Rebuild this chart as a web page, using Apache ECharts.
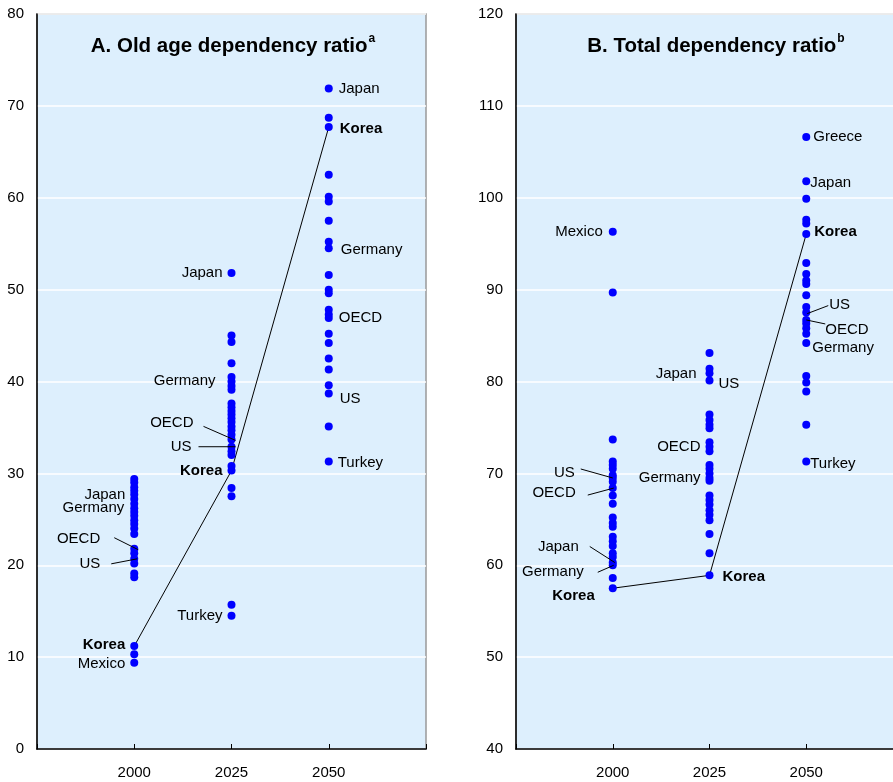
<!DOCTYPE html>
<html>
<head>
<meta charset="utf-8">
<script src="https://cdn.jsdelivr.net/npm/echarts@6/dist/echarts.min.js"></script>
<style>
  html, body { margin: 0; padding: 0; background: #ffffff; overflow: hidden; }
  /* panel B runs past the right edge of the page, so the canvas is a little wider */
  #chart { width: 910px; height: 782px; }
</style>
</head>
<body>
<div id="chart"></div>
<script>
// Projection years shown on both x axes
const years = ['2000', '2025', '2050'];

// Panel A: old-age dependency ratio, one value per OECD country
const oldAge2000 = [29.4, 29.0, 28.5, 28.1, 27.7, 27.2, 26.7, 26.2, 25.8, 25.4, 24.9, 24.5, 24.0, 23.4,
                    21.8, 21.3, 20.7, 20.2, 19.1, 18.7, 11.2, 10.3, 9.4];
const oldAge2025 = [51.8, 45.0, 44.3, 42.0, 40.5, 40.0, 39.5, 39.1, 37.6, 37.2, 36.8, 36.4, 36.0, 35.6,
                    35.1, 34.7, 34.2, 33.7, 32.9, 32.4, 32.0, 30.8, 30.3, 28.4, 27.5, 15.7, 14.5];
const oldAge2050 = [71.9, 68.7, 67.7, 62.5, 60.1, 59.6, 57.5, 55.2, 54.5, 51.6, 50.0, 49.6, 47.8, 47.3,
                    46.9, 45.2, 44.2, 42.5, 41.3, 39.6, 38.7, 35.1, 31.3];

// Panel B: total dependency ratio
const total2000 = [96.3, 89.7, 73.7, 71.3, 70.9, 70.5, 69.8, 69.5, 69.1, 68.4, 67.6, 66.7, 65.2, 64.6,
                   64.2, 63.1, 62.6, 62.1, 61.3, 60.9, 60.3, 60.0, 58.6, 57.5];
const total2025 = [83.1, 81.4, 80.9, 80.1, 76.4, 75.8, 75.3, 74.9, 73.4, 72.9, 72.4, 70.9, 70.5, 70.0,
                   69.5, 69.2, 67.6, 67.1, 66.6, 66.0, 65.5, 64.9, 63.4, 61.3, 58.9];
const total2050 = [106.6, 101.8, 99.9, 97.6, 97.2, 96.05, 92.9, 91.7, 91.0, 90.6, 89.4, 88.1, 87.5, 86.7,
                   86.3, 85.8, 85.2, 84.2, 80.6, 79.9, 78.9, 75.3, 71.3];

// Korea's path across the three years
const koreaOldAge = [11.2, 30.3, 67.7];
const koreaTotal = [57.5, 58.9, 96.05];

// Named countries: [year, country, value]
const oldAgeNamed = [
  ['2000', 'Japan', 27.7], ['2000', 'Germany', 26.2], ['2000', 'OECD', 21.8], ['2000', 'US', 20.7],
  ['2000', 'Korea', 11.2], ['2000', 'Mexico', 9.4],
  ['2025', 'Japan', 51.8], ['2025', 'Germany', 40.0], ['2025', 'OECD', 33.7], ['2025', 'US', 32.9],
  ['2025', 'Korea', 30.3], ['2025', 'Turkey', 14.5],
  ['2050', 'Japan', 71.9], ['2050', 'Korea', 67.7], ['2050', 'Germany', 54.5], ['2050', 'OECD', 46.9],
  ['2050', 'US', 38.7], ['2050', 'Turkey', 31.3]
];
const totalNamed = [
  ['2000', 'Mexico', 96.3], ['2000', 'US', 69.5], ['2000', 'OECD', 68.4], ['2000', 'Japan', 60.3],
  ['2000', 'Germany', 60.0], ['2000', 'Korea', 57.5],
  ['2025', 'Japan', 80.9], ['2025', 'US', 80.1], ['2025', 'OECD', 72.9], ['2025', 'Germany', 69.5],
  ['2025', 'Korea', 58.9],
  ['2050', 'Greece', 106.6], ['2050', 'Japan', 101.8], ['2050', 'Korea', 96.05], ['2050', 'US', 87.5],
  ['2050', 'OECD', 86.7], ['2050', 'Germany', 84.2], ['2050', 'Turkey', 71.3]
];

// Label placement in pixels relative to the dot: side of text, offset, optional leader line
const oldAgeCallouts = {
  '2000|Japan':   { side: 'left', dx: -9, dy: 0 },
  '2000|Germany': { side: 'left', dx: -10, dy: 0 },
  '2000|OECD':    { side: 'left', dx: -34, dy: -10, leader: [-20, -11, 4, 1] },
  '2000|US':      { side: 'left', dx: -34, dy: 5, leader: [-23, 5, 3, 0] },
  '2000|Korea':   { side: 'left', dx: -9, dy: -1 },
  '2000|Mexico':  { side: 'left', dx: -9, dy: 1 },
  '2025|Japan':   { side: 'left', dx: -9, dy: 0 },
  '2025|Germany': { side: 'left', dx: -16, dy: -1 },
  '2025|OECD':    { side: 'left', dx: -38, dy: -17, leader: [-28, -13, 4, 1] },
  '2025|US':      { side: 'left', dx: -40, dy: 0, leader: [-33, 0, 4, 0] },
  '2025|Korea':   { side: 'left', dx: -9, dy: 0 },
  '2025|Turkey':  { side: 'left', dx: -9, dy: 0 },
  '2050|Japan':   { side: 'right', dx: 10, dy: 0 },
  '2050|Korea':   { side: 'right', dx: 11, dy: 2 },
  '2050|Germany': { side: 'right', dx: 12, dy: 2 },
  '2050|OECD':    { side: 'right', dx: 10, dy: 0 },
  '2050|US':      { side: 'right', dx: 11, dy: 5 },
  '2050|Turkey':  { side: 'right', dx: 9, dy: 1 }
};
const totalCallouts = {
  '2000|Mexico':  { side: 'left', dx: -10, dy: 0 },
  '2000|US':      { side: 'left', dx: -38, dy: -5, leader: [-32, -9, 0, 0] },
  '2000|OECD':    { side: 'left', dx: -37, dy: 5, leader: [-25, 7, 1, 0] },
  '2000|Japan':   { side: 'left', dx: -34, dy: -16, leader: [-23, -16, 2, 0] },
  '2000|Germany': { side: 'left', dx: -29, dy: 7, leader: [-15, 7, 1, 0] },
  '2000|Korea':   { side: 'left', dx: -18, dy: 8 },
  '2025|Japan':   { side: 'left', dx: -13, dy: 1 },
  '2025|US':      { side: 'right', dx: 9, dy: 3 },
  '2025|OECD':    { side: 'left', dx: -9, dy: 0 },
  '2025|Germany': { side: 'left', dx: -9, dy: 0 },
  '2025|Korea':   { side: 'right', dx: 13, dy: 2 },
  '2050|Greece':  { side: 'right', dx: 7, dy: 0 },
  '2050|Japan':   { side: 'right', dx: 4, dy: 2 },
  '2050|Korea':   { side: 'right', dx: 8, dy: -2 },
  '2050|US':      { side: 'right', dx: 23, dy: -8, leader: [22, -7, 1, 1] },
  '2050|OECD':    { side: 'right', dx: 19, dy: 10, leader: [19, 4, 0, 0] },
  '2050|Germany': { side: 'right', dx: 6, dy: 5 },
  '2050|Turkey':  { side: 'right', dx: 4, dy: 2 }
};

const FONT = '"Liberation Sans", Arial, Helvetica, sans-serif';
const PANEL_BG = '#DDEFFD';

function yearPos(y) { return years.indexOf(y) + 1; }
function toPoints(year, values) { return values.map(v => [yearPos(year), v]); }

function dotSeries(idx, columns) {
  const data = [];
  columns.forEach(([year, vals]) => data.push(...toPoints(year, vals)));
  return {
    type: 'scatter', xAxisIndex: idx, yAxisIndex: idx, data,
    symbol: 'circle', symbolSize: 8,
    itemStyle: { color: '#0000FF', opacity: 1 }, z: 3, silent: true
  };
}

function koreaLine(idx, vals) {
  return {
    type: 'line', xAxisIndex: idx, yAxisIndex: idx,
    data: vals.map((v, i) => [i + 1, v]),
    symbol: 'none', lineStyle: { color: '#000', width: 1 }, z: 2, silent: true
  };
}

function labelSeries(idx, named, callouts) {
  return {
    type: 'custom', xAxisIndex: idx, yAxisIndex: idx, z: 5, clip: false, silent: true,
    data: named.map(([year, , v]) => [yearPos(year), v]),
    renderItem: function (params, api) {
      const [year, name, v] = named[params.dataIndex];
      const c = callouts[year + '|' + name];
      const p = api.coord([yearPos(year), v]);
      const children = [{
        type: 'text',
        style: {
          text: name, x: p[0] + c.dx, y: p[1] + c.dy,
          align: c.side === 'left' ? 'right' : 'left', verticalAlign: 'middle',
          fontSize: 15, fontFamily: FONT, fontWeight: name === 'Korea' ? 'bold' : 'normal',
          fill: '#000'
        }
      }];
      if (c.leader) {
        const l = c.leader;
        children.push({
          type: 'line',
          shape: { x1: p[0] + l[0], y1: p[1] + l[1], x2: p[0] + l[2], y2: p[1] + l[3] },
          style: { stroke: '#000', lineWidth: 1 }
        });
      }
      return { type: 'group', children };
    }
  };
}

function xAxis(idx) {
  return {
    gridIndex: idx, type: 'value', min: 0, max: 4, interval: 1,
    axisLine: { show: true, lineStyle: { color: '#000', width: 1.5 } },
    axisTick: { show: true, inside: true, length: 5, lineStyle: { color: '#000', width: 1 } },
    axisLabel: {
      margin: 16, fontSize: 15, fontFamily: FONT, color: '#000',
      formatter: v => years[v - 1] || ''
    },
    splitLine: { show: false }
  };
}

function yAxis(idx, min, max) {
  return {
    gridIndex: idx, type: 'value', min, max, interval: 10,
    axisLine: { show: true, lineStyle: { color: '#000', width: 1.5 } },
    axisTick: { show: false },
    axisLabel: { margin: 13, fontSize: 15, fontFamily: FONT, color: '#000' },
    splitLine: { show: true, lineStyle: { color: '#FFFFFF', width: 1.5 } }
  };
}

function panelTitle(main, sup, center) {
  return {
    text: '{m|' + main + '}{s|' + sup + '}',
    left: center, top: 33, textAlign: 'center', padding: 0,
    textStyle: {
      rich: {
        m: { fontSize: 20.5, fontWeight: 'bold', fontFamily: FONT, color: '#000', lineHeight: 26 },
        s: { fontSize: 12, fontWeight: 'bold', fontFamily: FONT, color: '#000', verticalAlign: 'top', lineHeight: 26, padding: [0, 0, 8, 1] }
      }
    }
  };
}

const chart = echarts.init(document.getElementById('chart'), null, { renderer: 'canvas' });
chart.setOption({
  animation: false,
  backgroundColor: '#FFFFFF',
  title: [
    panelTitle('A. Old age dependency ratio', 'a', 233),
    panelTitle('B. Total dependency ratio', 'b', 716)
  ],
  grid: [
    { left: 37, top: 14, width: 389, height: 735, show: true, backgroundColor: PANEL_BG, borderColor: '#999', borderWidth: 1.5 },
    { left: 516, top: 14, width: 387, height: 735, show: true, backgroundColor: PANEL_BG, borderColor: '#999', borderWidth: 1.5 }
  ],
  xAxis: [xAxis(0), xAxis(1)],
  yAxis: [yAxis(0, 0, 80), yAxis(1, 40, 120)],
  series: [
    koreaLine(0, koreaOldAge),
    dotSeries(0, [['2000', oldAge2000], ['2025', oldAge2025], ['2050', oldAge2050]]),
    labelSeries(0, oldAgeNamed, oldAgeCallouts),
    koreaLine(1, koreaTotal),
    dotSeries(1, [['2000', total2000], ['2025', total2025], ['2050', total2050]]),
    labelSeries(1, totalNamed, totalCallouts)
  ]
});
</script>
</body>
</html>
